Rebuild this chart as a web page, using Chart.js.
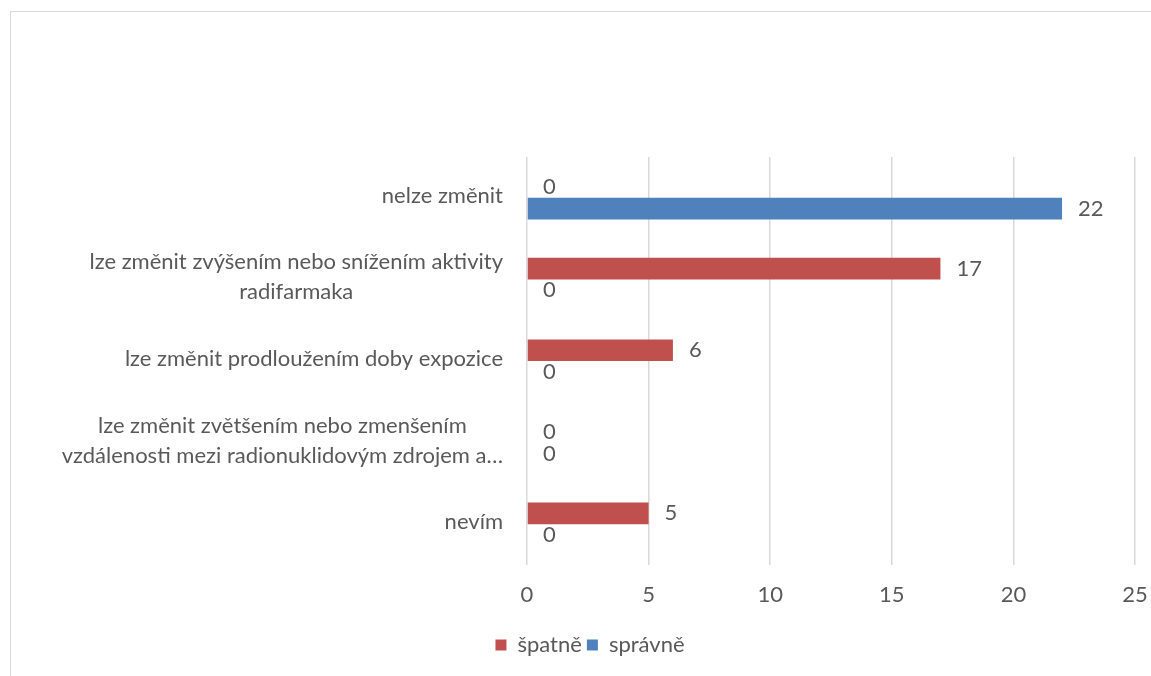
<!DOCTYPE html>
<html lang="cs">
<head>
<meta charset="utf-8">
<title>Změna aktivity – odpovědi</title>
<script src="https://cdn.jsdelivr.net/npm/chart.js@4.4.1/dist/chart.umd.min.js"></script>
<style>
  html, body { margin: 0; padding: 0; background: #fff; overflow: hidden; }
  #frame {
    position: absolute; left: 10px; top: 11px; width: 1200px; height: 700px;
    border: 1.5px solid #d9d9d9; box-sizing: border-box;
  }
  #wrap { position: absolute; left: 0; top: 0; width: 1180px; height: 676px; }
</style>
</head>
<body>
<div id="frame"></div>
<div id="wrap"><canvas id="chart" width="1180" height="676"></canvas></div>
<script>
// Categories (top to bottom); multi-line entries are wrapped label lines
const categories = [
  ['nelze změnit'],
  ['lze změnit zvýšením nebo snížením aktivity', 'radifarmaka'],
  ['lze změnit prodloužením doby expozice'],
  ['lze změnit zvětšením nebo zmenšením', 'vzdálenosti mezi radionuklidovým zdrojem a…'],
  ['nevím']
];
const spatne = [0, 17, 6, 0, 5];
const spravne = [22, 0, 0, 0, 0];
const xTicks = [0, 5, 10, 15, 20, 25];

const TEXT = '#595959';
const FONT = 'Lato, "Liberation Sans", sans-serif';
const FS = 22;

// Category labels: lines centred within each block, block right-aligned to the axis
const categoryLabels = {
  id: 'categoryLabels',
  afterDraw(chart) {
    const ctx = chart.ctx;
    const y = chart.scales.y;
    const right = chart.chartArea.left - 24;
    ctx.save();
    ctx.font = FS + 'px ' + FONT;
    ctx.fillStyle = TEXT;
    ctx.textAlign = 'center';
    ctx.textBaseline = 'middle';
    const lh = 30;
    categories.forEach((lines, i) => {
      const cy = y.getPixelForValue(i) - 2;
      const widest = Math.max(...lines.map(l => ctx.measureText(l).width));
      const cx = right - widest / 2;
      lines.forEach((l, j) => {
        ctx.fillText(l, cx, cy + (j - (lines.length - 1) / 2) * lh);
      });
    });
    ctx.restore();
  }
};

// Value labels just past the end of each bar
const valueLabels = {
  id: 'valueLabels',
  afterDatasetsDraw(chart) {
    const ctx = chart.ctx;
    ctx.save();
    ctx.font = FS + 'px ' + FONT;
    ctx.fillStyle = TEXT;
    ctx.textAlign = 'left';
    ctx.textBaseline = 'middle';
    chart.data.datasets.forEach((ds, di) => {
      const meta = chart.getDatasetMeta(di);
      meta.data.forEach((bar, i) => {
        ctx.fillText(String(ds.data[i]), bar.x + 16, bar.y);
      });
    });
    ctx.restore();
  }
};

new Chart(document.getElementById('chart'), {
  type: 'bar',
  data: {
    labels: categories,
    datasets: [
      { label: 'špatně', data: spatne, backgroundColor: '#C0504D' },
      { label: 'správně', data: spravne, backgroundColor: '#4F81BD' }
    ]
  },
  options: {
    indexAxis: 'y',
    responsive: false,
    animation: false,
    events: [],
    categoryPercentage: 0.53,
    barPercentage: 1,
    layout: { padding: { top: 157, right: 45, left: 45, bottom: 10 } },
    scales: {
      x: {
        min: 0, max: 25,
        afterBuildTicks(scale) { scale.ticks = xTicks.map(v => ({ value: v })); },
        grid: { color: '#d9d9d9', lineWidth: 1.5, drawTicks: false },
        border: { display: false },
        ticks: { color: TEXT, font: { family: FONT, size: FS }, padding: 17 },
        afterFit(scale) { scale.height = 64; }
      },
      y: {
        grid: { display: false },
        border: { display: false },
        ticks: { display: false },
        afterFit(scale) { scale.width = 482; }
      }
    },
    plugins: {
      legend: {
        position: 'bottom',
        labels: {
          color: TEXT, font: { family: FONT, size: FS },
          boxWidth: 11, boxHeight: 11, padding: 5
        }
      },
      tooltip: { enabled: false }
    }
  },
  plugins: [categoryLabels, valueLabels]
});
</script>
</body>
</html>
